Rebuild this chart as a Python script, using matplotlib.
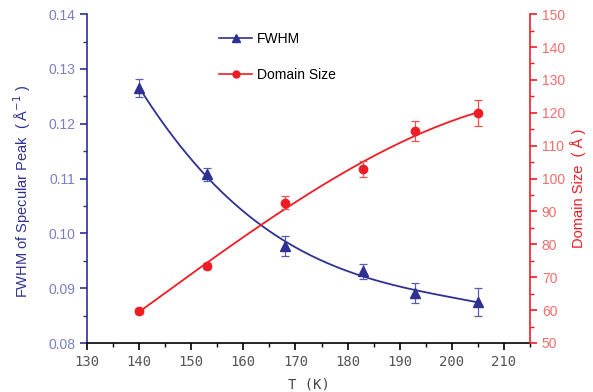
import numpy as np
import matplotlib
matplotlib.use("Agg")
import matplotlib.pyplot as plt
from matplotlib.ticker import MultipleLocator
from matplotlib.lines import Line2D

# Data
T = [140, 153, 168, 183, 193, 205]
fwhm = [0.1265, 0.1108, 0.0977, 0.0931, 0.0891, 0.0875]
fwhm_err = [0.0017, 0.0012, 0.0018, 0.0014, 0.0018, 0.0026]
domain = [59.7, 73.4, 92.6, 102.9, 114.4, 119.9]
domain_err = [1.0, 1.0, 2.0, 2.5, 3.0, 4.0]

BLUE = "#2E3192"
RED = "#EE1C25"
BLUE_T = "#7B7FC4"
RED_T = "#F26D6D"
SANS = ["Liberation Sans", "DejaVu Sans"]

fig = plt.figure(figsize=(5.93, 3.92), dpi=100)
ax = fig.add_axes([0.1467, 0.125, 0.8938 - 0.1467, 0.964 - 0.125])
ax2 = ax.twinx()

def smooth(x, y, deg=3):
    x = np.asarray(x, float); y = np.asarray(y, float)
    c = np.polyfit(x, y, deg)
    xs = np.linspace(x.min(), x.max(), 200)
    return xs, np.polyval(c, xs)

xs, ys = smooth(T, fwhm, 3)
ax.plot(xs, ys, color=BLUE, lw=1.3)
ax.errorbar(T, fwhm, yerr=fwhm_err, fmt="^", color=BLUE, ms=7, capsize=3,
            elinewidth=0.9, capthick=0.9, ecolor="#5A5EAA")

xs2, ys2 = smooth(T, domain, 3)
ax2.plot(xs2, ys2, color=RED, lw=1.3)
ax2.errorbar(T, domain, yerr=domain_err, fmt="o", color=RED, ms=6, capsize=3,
             elinewidth=0.9, capthick=0.9, ecolor="#F05050")

ax.set_xlim(130, 215)
ax.set_ylim(0.08, 0.14)
ax2.set_ylim(50, 150)

ax.xaxis.set_major_locator(MultipleLocator(10))
ax.xaxis.set_minor_locator(MultipleLocator(5))
ax.yaxis.set_major_locator(MultipleLocator(0.01))
ax.yaxis.set_minor_locator(MultipleLocator(0.005))
ax2.yaxis.set_major_locator(MultipleLocator(10))
ax2.yaxis.set_minor_locator(MultipleLocator(5))

for a in (ax, ax2):
    a.spines["top"].set_visible(False)
ax.spines["left"].set_color(BLUE)
ax.spines["right"].set_visible(False)
ax2.spines["left"].set_visible(False)
ax2.spines["right"].set_color(RED)
ax2.spines["bottom"].set_visible(False)
for s in ("left", "bottom"):
    ax.spines[s].set_linewidth(1.2)
ax2.spines["right"].set_linewidth(1.2)

ax.tick_params(axis="x", which="major", direction="out", length=5, width=1.2, color="black",
               labelsize=10, labelcolor="#555555", pad=4)
ax.tick_params(axis="x", which="minor", direction="out", length=3, width=1.0, color="black")
ax.tick_params(axis="y", which="major", direction="out", length=5, width=1.2, color=BLUE,
               labelsize=10, labelcolor=BLUE_T)
ax.tick_params(axis="y", which="minor", direction="out", length=3, width=1.0, color=BLUE)
ax2.tick_params(axis="y", which="major", direction="out", length=5, width=1.2, color=RED,
                labelsize=10, labelcolor=RED_T)
ax2.tick_params(axis="y", which="minor", direction="out", length=3, width=1.0, color=RED)

for lab in ax.get_xticklabels():
    lab.set_family("DejaVu Sans Mono")
ax.yaxis.set_major_formatter(matplotlib.ticker.FormatStrFormatter("%.2f"))
for lab in ax.get_yticklabels() + ax2.get_yticklabels():
    lab.set_family(SANS)

ax.set_xlabel("T (K)", family="DejaVu Sans Mono", fontsize=10, color="#444444", labelpad=6)
ax.set_ylabel("FWHM of Specular Peak  ( Å$^{-1}$ )", color=BLUE, fontsize=10.5,
              family=SANS, labelpad=4)
ax.yaxis.set_label_coords(-0.122, 0.46)
ax2.set_ylabel("Domain Size  ( Å )", color=RED, fontsize=10.5,
               family=SANS, labelpad=4)
ax2.yaxis.set_label_coords(1.09, 0.47)

handles = [Line2D([], [], color=BLUE, marker="^", ms=6, lw=1.2),
           Line2D([], [], color=RED, marker="o", ms=5, lw=1.2)]
ax.legend(handles, ["FWHM", "Domain Size"], loc="upper left", bbox_to_anchor=(0.27, 0.985),
          frameon=False, prop={"family": SANS, "size": 10}, handlelength=2.4,
          labelspacing=1.6, handletextpad=0.3)

fig.savefig("out.png", dpi=100)
